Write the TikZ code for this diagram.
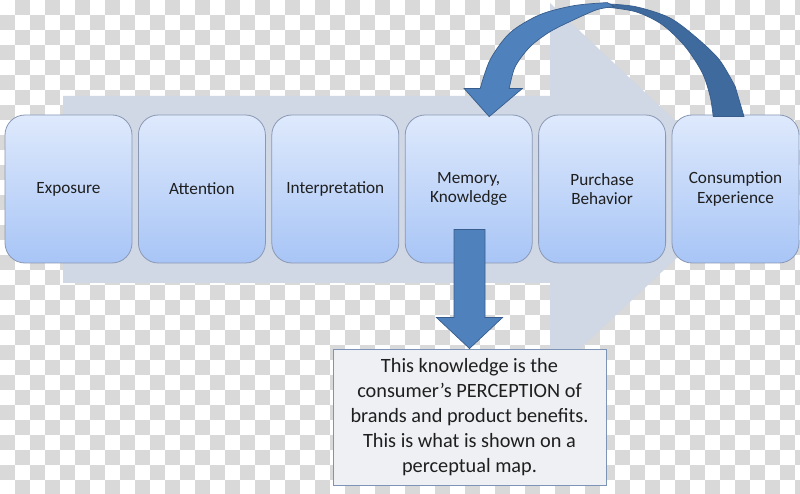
\documentclass[tikz,border=0pt]{standalone}
\usepackage{fontspec}
\setmainfont{Carlito}
\usetikzlibrary{positioning,calc}

\definecolor{bigarrow}{RGB}{208,215,229}
\definecolor{boxtop}{RGB}{222,233,252}
\definecolor{boxbot}{RGB}{168,197,246}
\definecolor{boxline}{RGB}{138,152,180}
\definecolor{notefill}{RGB}{238,240,243}
\definecolor{noteline}{RGB}{124,149,182}
\definecolor{blueA}{RGB}{79,129,189}
\definecolor{blueB}{RGB}{62,106,158}
\definecolor{blueline}{RGB}{56,93,140}

\begin{document}
\begin{tikzpicture}[
  x=1pt, y=1pt,
  font=\fontsize{17.2}{19.5}\selectfont,
  stage/.style={draw=boxline, line width=0.8pt, rounded corners=20pt,
    top color=boxtop, bottom color=boxbot, minimum width=127pt,
    minimum height=148pt, align=center, text=black!88, inner sep=0pt},
  note/.style={draw=noteline, line width=0.9pt, fill=notefill,
    minimum width=273pt, minimum height=136pt, align=center, text=black!88,
    font=\fontsize{20.3}{25}\selectfont},
  blockarrow/.style={draw=blueline, line width=0.7pt, fill=blueA},
  backband/.style={draw=blueline, line width=0.7pt, fill=blueB}
  ]
  \useasboundingbox (0,0) rectangle (800,493);

  % checkerboard
  \begin{scope}
    \clip (0,0) rectangle (800,493);
    \fill[white] (0,0) rectangle (800,493);
    \foreach \j in {0,...,32} {
      \foreach \i in {0,2,...,54} {
        \fill[gray!30] ({15*\i+15*mod(\j+1,2)},{493-15*\j}) rectangle ++(15,-15);
      }
    }
  \end{scope}

  % big process arrow
  \fill[bigarrow] (63,397) -- (550,397) -- (550,490) -- (749,303)
    -- (550,116) -- (550,210) -- (63,210) -- cycle;

  \node[stage] (expo) at (68.5,304) {Exposure};
  \node[stage, right=5.6pt of expo] (atten) {Attention};
  \node[stage, right=5.6pt of atten] (interp) {Interpretation};
  \node[stage, right=5.6pt of interp] (memory) {Memory,\\Knowledge};
  \node[stage, right=5.6pt of memory] (purch) {Purchase\\Behavior};
  \node[stage, right=5.6pt of purch] (consump) {Consumption\\Experience};

  \node[note] (note) at (469.5,76) {This knowledge is the\\consumer’s PERCEPTION of\\brands and product benefits.\\This is what is shown on a\\perceptual map.};

  % down arrow
  \draw[blockarrow] ($(note.north)+(-15.5,119)$) -- ++(31,0) -- ++(0,-88)
    -- ++(17.5,0) -- (note.north) -- ++(-33,31) -- ++(17.5,0) -- cycle;

  % curved arrow, offsets from its tip
  \coordinate (foot) at ($(consump.north)+(8.5,-2)$);
  \coordinate (tip) at ($(memory.north)+(20.5,-2)$);
  \begin{scope}[shift={(tip)}]
    \draw[backband] (foot) -- plot[smooth] coordinates {(246,30) (230,57) (206,80)
      (180,99) (146,110) (113,113)} -- plot[smooth] coordinates {(113,110) (146,105)
      (173,92) (196,70) (213,44) (221,20) (224,0)} -- cycle;
    \draw[blockarrow] plot[smooth] coordinates {(118,114) (85,111) (51,102) (21,84)
      (1,57) (-9,28)} -- (-25,28) -- (tip) -- (33,28) -- plot[smooth] coordinates
      {(20,28) (26,50) (41,70) (61,85) (85,97) (108,107) (125,110)} -- cycle;
  \end{scope}
\end{tikzpicture}
\end{document}
